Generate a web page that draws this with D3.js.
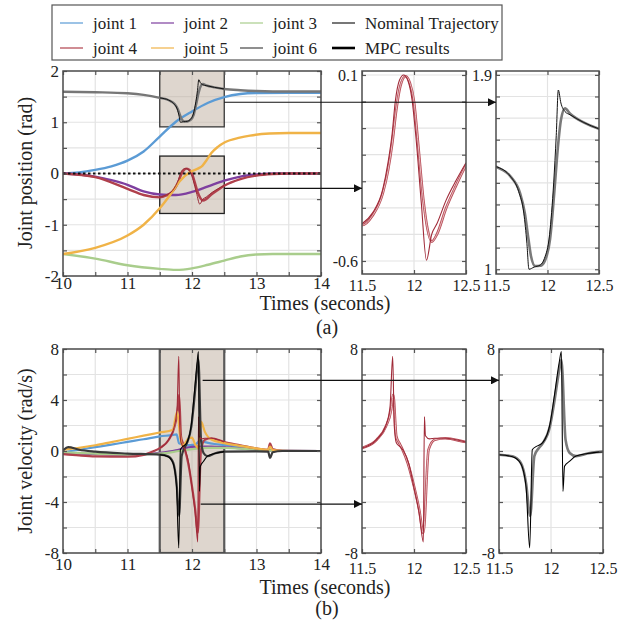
<!DOCTYPE html>
<html>
<head>
<meta charset="utf-8">
<script src="https://cdn.jsdelivr.net/npm/d3@7"></script>
<style>
  body { margin: 0; background: #fff; }
  text { font-family: "Liberation Serif", "Times New Roman", serif; fill: #222; }
</style>
</head>
<body>
<svg id="fig" width="624" height="622"></svg>
<script>
// ---- data ----
const jointNames = ["joint 1", "joint 2", "joint 3", "joint 4", "joint 5", "joint 6"]
const jointColors = ["#5b9bd5", "#7e3f9f", "#a9cd8c", "#b0404c", "#f0b347", "#777777"]

// joint positions (rad), nominal trajectory
const pos1 = [[10,0],[10.25,0.02],[10.5,0.07],[10.75,0.14],[11,0.25],[11.25,0.43],[11.5,0.72],[11.75,1.01],[12,1.21],[12.25,1.38],[12.5,1.49],[12.75,1.55],[13,1.57],[13.5,1.575],[14,1.575]]
const pos2 = [[10,0],[10.25,-0.02],[10.5,-0.06],[10.75,-0.13],[11,-0.22],[11.25,-0.35],[11.5,-0.41],[11.75,-0.42],[12,-0.36],[12.25,-0.25],[12.5,-0.14],[12.75,-0.06],[13,-0.02],[13.3,0],[14,0]]
const pos3 = [[10,-1.57],[10.5,-1.66],[11,-1.79],[11.5,-1.86],[11.75,-1.88],[12,-1.85],[12.25,-1.78],[12.5,-1.7],[12.75,-1.62],[13,-1.58],[13.25,-1.57],[14,-1.57]]
const pos4 = [[10,0],[10.5,-0.07],[11,-0.3],[11.25,-0.42],[11.5,-0.465],[11.6,-0.43],[11.7,-0.345],[11.75,-0.26],[11.79,-0.16],[11.83,-0.03],[11.87,0.06],[11.92,0.095],[11.96,0.07],[12,0],[12.04,-0.16],[12.09,-0.37],[12.13,-0.48],[12.17,-0.527],[12.22,-0.5],[12.31,-0.4],[12.4,-0.32],[12.5,-0.24],[12.75,-0.11],[13,-0.04],[13.25,-0.01],[13.5,0],[14,0]]
const pos5 = [[10,-1.57],[10.5,-1.45],[11,-1.21],[11.25,-1.0],[11.5,-0.68],[11.66,-0.42],[11.81,-0.15],[11.97,0.03],[12.1,0.1],[12.16,0.15],[12.22,0.25],[12.3,0.4],[12.4,0.52],[12.51,0.61],[12.74,0.7],[12.9,0.74],[13.2,0.78],[13.5,0.79],[14,0.79]]
const pos6 = [[10,1.595],[10.5,1.585],[11,1.565],[11.25,1.535],[11.5,1.475],[11.64,1.43],[11.735,1.35],[11.78,1.26],[11.815,1.14],[11.84,1.06],[11.88,1.015],[11.93,1.016],[11.975,1.04],[12.025,1.14],[12.065,1.35],[12.1,1.56],[12.13,1.69],[12.17,1.745],[12.22,1.72],[12.35,1.68],[12.5,1.65],[12.75,1.625],[13,1.61],[13.5,1.6],[14,1.6]]
// MPC results where they differ from nominal
const pos4Mpc = [[11.5,-0.46],[11.6,-0.42],[11.7,-0.33],[11.75,-0.23],[11.79,-0.12],[11.82,0],[11.86,0.08],[11.9,0.1],[11.94,0.08],[11.98,0.01],[12.02,-0.14],[12.07,-0.38],[12.12,-0.597],[12.17,-0.5],[12.22,-0.46],[12.31,-0.37],[12.4,-0.3],[12.5,-0.23]]
const pos6Mpc = [[11.5,1.475],[11.64,1.43],[11.72,1.36],[11.77,1.26],[11.8,1.12],[11.82,1.0],[11.87,1.01],[11.93,1.02],[11.97,1.05],[12.02,1.16],[12.06,1.4],[12.085,1.62],[12.105,1.83],[12.13,1.77],[12.17,1.73],[12.22,1.715],[12.35,1.68],[12.5,1.65]]

// joint velocities (rad/s), nominal trajectory
const vel1 = [[10,-0.1],[10.25,0.1],[10.5,0.3],[10.75,0.5],[11,0.72],[11.25,0.92],[11.5,1.15],[11.7,1.25],[11.76,1.3],[11.8,0.6],[11.9,0.45],[12.05,0.5],[12.12,0.8],[12.2,0.7],[12.35,0.55],[12.5,0.48],[12.75,0.3],[13,0.15],[13.3,0.02],[14,0]]
const vel2 = [[10,-0.15],[10.5,-0.25],[11,-0.3],[11.5,-0.15],[11.75,0.05],[11.9,0.25],[12.1,0.35],[12.3,0.35],[12.5,0.3],[12.75,0.2],[13,0.1],[13.3,0.01],[14,0]]
const vel3 = [[10,-0.1],[10.5,-0.2],[11,-0.28],[11.5,-0.2],[11.8,0],[12,0.15],[12.25,0.25],[12.5,0.25],[12.75,0.18],[13,0.1],[13.3,0.01],[14,0]]
const vel4 = [[10,-0.25],[10.25,-0.35],[10.5,-0.42],[11,-0.45],[11.25,-0.3],[11.4,-0.02],[11.5,0.23],[11.64,0.88],[11.73,1.93],[11.78,3.24],[11.8,4.4],[11.83,1.15],[11.86,0.6],[11.89,0.1],[11.94,-0.94],[12,-2.77],[12.05,-4.6],[12.09,-6.43],[12.14,0.1],[12.2,0.88],[12.3,1.0],[12.5,0.7],[12.75,0.45],[13,0.2],[13.18,0.1],[13.21,0.6],[13.25,0.15],[13.4,0.02],[14,0]]
const vel5 = [[10,0.1],[10.25,0.25],[10.5,0.45],[10.75,0.7],[11,0.95],[11.25,1.2],[11.5,1.45],[11.7,1.65],[11.77,3.1],[11.82,1.0],[11.85,0.4],[11.95,1.0],[12,1.05],[12.05,0.5],[12.1,0.25],[12.14,2.3],[12.2,1.5],[12.3,0.9],[12.5,0.62],[12.75,0.4],[13,0.2],[13.18,0.1],[13.21,0.35],[13.25,0.08],[13.5,0],[14,0]]
const vel6 = [[10,0.05],[10.08,0.3],[10.25,0.1],[10.5,-0.05],[11,-0.2],[11.5,-0.29],[11.63,-0.42],[11.71,-0.94],[11.76,-2.5],[11.8,-5.1],[11.84,-0.4],[11.88,0.2],[11.92,0.6],[11.99,1.93],[12.03,3.76],[12.08,6.38],[12.1,7.16],[12.14,0.88],[12.18,-0.16],[12.24,-0.4],[12.35,-0.2],[12.5,-0.05],[13,-0.03],[13.18,-0.05],[13.21,-0.55],[13.25,-0.1],[13.4,0],[14,0]]
const vel4Mpc = [[11.5,0.23],[11.64,0.9],[11.73,2.0],[11.77,3.5],[11.795,7.42],[11.81,2.0],[11.83,0.65],[11.87,0.3],[11.9,0],[11.95,-1.0],[12,-2.9],[12.05,-4.9],[12.09,-7.14],[12.1,2.7],[12.11,1.2],[12.15,0.95],[12.2,1.0],[12.3,1.0],[12.5,0.7]]
const vel6Mpc = [[11.5,-0.29],[11.63,-0.45],[11.71,-1.0],[11.76,-2.8],[11.795,-7.6],[11.82,0.1],[11.86,0.36],[11.92,0.65],[11.99,2.1],[12.03,4.2],[12.08,7.0],[12.1,7.8],[12.115,-3.17],[12.13,-1.2],[12.18,-0.8],[12.24,-0.4],[12.35,-0.2],[12.5,-0.05]]

// ticks
const mainXTicks = [10, 10.5, 11, 11.5, 12, 12.5, 13, 13.5, 14]
const mainXLabels = [10, 11, 12, 13, 14]
const posYTicks = [-2, -1.5, -1, -0.5, 0, 0.5, 1, 1.5, 2]
const posYLabels = [-2, -1, 0, 1, 2]
const velYTicks = [-8, -6, -4, -2, 0, 2, 4, 6, 8]
const velYLabels = [-8, -4, 0, 4, 8]
const zoomXTicks = [11.5, 12, 12.5]
const zoomXLabels = ["11.5", "12", "12.5"]
const zoomPos4YTicks = [-0.6, -0.5, -0.4, -0.3, -0.2, -0.1, 0, 0.1]
const zoomPos4YLabels = [-0.6, 0.1]
const zoomPos6YTicks = [1, 1.1, 1.2, 1.3, 1.4, 1.5, 1.6, 1.7, 1.8, 1.9]
const zoomPos6YLabels = [1, 1.9]
const zoomVelYLabels = [-8, 8]

const posNominal = [pos1, pos2, pos3, pos4, pos5, pos6]
const velNominal = [vel1, vel2, vel3, vel4, vel5, vel6]

const svg = d3.select("#fig")
const defs = svg.append("defs")
defs.append("marker").attr("id", "arrow")
    .attr("viewBox", "0 0 10 10").attr("refX", 10).attr("refY", 5)
    .attr("markerWidth", 9).attr("markerHeight", 8).attr("markerUnits", "userSpaceOnUse")
    .attr("orient", "auto")
    .append("path").attr("d", "M0,0L10,5L0,10z").attr("fill", "#111")

let clipCount = 0

// one MATLAB-like axes box with grid and inward ticks
function panel(p) {
    const x = d3.scaleLinear().domain(p.xd).range([p.l, p.r])
    const y = d3.scaleLinear().domain(p.yd).range([p.b, p.t])
    const g = svg.append("g")
    const id = "clip" + (clipCount++)
    defs.append("clipPath").attr("id", id)
        .append("rect").attr("x", p.l).attr("y", p.t).attr("width", p.r - p.l).attr("height", p.b - p.t)

    // grid
    g.append("g").selectAll("line").data(p.xGrid).join("line")
        .attr("x1", d => x(d)).attr("x2", d => x(d)).attr("y1", p.t).attr("y2", p.b)
        .attr("stroke", "#e3e3e3").attr("stroke-width", 1.2)
    g.append("g").selectAll("line").data(p.yGrid).join("line")
        .attr("y1", d => y(d)).attr("y2", d => y(d)).attr("x1", p.l).attr("x2", p.r)
        .attr("stroke", "#e3e3e3").attr("stroke-width", 1.2)

    const plot = g.append("g").attr("clip-path", "url(#" + id + ")")
    const front = svg.append("g")
    return {x, y, g, plot, front, p}
}

function axesFrame(P) {
    const {x, y, front, p} = P
    const fmtX = d => p.xLab.map(String).includes(String(d)) ? String(d) : ""
    const fmtY = d => p.yLab.map(String).includes(String(d)) ? String(d) : ""
    const bottom = front.append("g").attr("transform", "translate(0," + p.b + ")")
        .call(d3.axisBottom(x).tickValues(p.xTicks).tickSizeInner(-4).tickSizeOuter(0).tickPadding(p.xPad).tickFormat(fmtX))
    const top = front.append("g").attr("transform", "translate(0," + p.t + ")")
        .call(d3.axisTop(x).tickValues(p.xTicks).tickSizeInner(-4).tickSizeOuter(0).tickFormat(""))
    const left = front.append("g").attr("transform", "translate(" + p.l + ",0)")
        .call(d3.axisLeft(y).tickValues(p.yTicks).tickSizeInner(-4).tickSizeOuter(0).tickPadding(4).tickFormat(fmtY))
    const right = front.append("g").attr("transform", "translate(" + p.r + ",0)")
        .call(d3.axisRight(y).tickValues(p.yTicks).tickSizeInner(-4).tickSizeOuter(0).tickFormat(""))
    for (const a of [bottom, top, left, right]) {
        a.select(".domain").remove()
        a.selectAll("line").attr("stroke", "#555").attr("stroke-width", 1.2)
        a.selectAll("text").attr("font-size", p.fs).attr("font-family", "Liberation Serif, serif").attr("fill", "#222")
    }
    front.append("rect").attr("x", p.l).attr("y", p.t).attr("width", p.r - p.l).attr("height", p.b - p.t)
        .attr("fill", "none").attr("stroke", "#4d4d4d").attr("stroke-width", 1.5)
}

const line = (P) => d3.line().x(d => P.x(d[0])).y(d => P.y(d[1])).curve(d3.curveMonotoneX)

function drawSeries(P, data, color, width) {
    P.plot.append("path").datum(data).attr("d", line(P))
        .attr("fill", "none").attr("stroke", color).attr("stroke-width", width)
        .attr("stroke-linejoin", "round")
}

function zoomBox(P, x0, x1, y0, y1, stroke, sw) {
    P.plot.append("rect")
        .attr("x", P.x(x0)).attr("y", P.y(y1))
        .attr("width", P.x(x1) - P.x(x0)).attr("height", P.y(y0) - P.y(y1))
        .attr("fill", "rgb(195,180,165)").attr("fill-opacity", 0.55)
        .attr("stroke", stroke).attr("stroke-width", sw)
}

// ---------------- (a) positions ----------------
const A = panel({l: 63, r: 321, t: 71, b: 276, xd: [10, 14], yd: [-2, 2],
    xGrid: mainXTicks, yGrid: posYTicks, xTicks: mainXTicks, xLab: mainXLabels,
    yTicks: posYTicks, yLab: posYLabels, xPad: 1, fs: 17})
zoomBox(A, 11.5, 12.5, 0.91, 2.03, "#3a3a3a", 1.3)
zoomBox(A, 11.5, 12.5, -0.78, 0.34, "#222", 1.3)
posNominal.forEach((d, i) => drawSeries(A, d, jointColors[i], 2.4))
drawSeries(A, pos4Mpc, "#9a2a36", 1)
drawSeries(A, pos6Mpc, "#111", 1)
A.plot.append("line").attr("x1", A.x(10)).attr("x2", A.x(14)).attr("y1", A.y(0)).attr("y2", A.y(0))
    .attr("stroke", "#111").attr("stroke-width", 2).attr("stroke-dasharray", "2.5,2.5")
axesFrame(A)

const A4 = panel({l: 362, r: 466, t: 71, b: 274, xd: [11.5, 12.5], yd: [-0.649, 0.115],
    xGrid: [12], yGrid: zoomPos4YTicks, xTicks: zoomXTicks, xLab: zoomXLabels,
    yTicks: zoomPos4YTicks, yLab: zoomPos4YLabels, xPad: 6, fs: 16})
drawSeries(A4, pos4, "#b84a55", 2.6)
drawSeries(A4, pos4, "#f3d9db", 0.8)
drawSeries(A4, pos4Mpc, "#a02a38", 1.1)
axesFrame(A4)

const A6 = panel({l: 496, r: 599, t: 71, b: 274, xd: [11.5, 12.5], yd: [0.978, 1.918],
    xGrid: [12], yGrid: zoomPos6YTicks, xTicks: zoomXTicks, xLab: zoomXLabels,
    yTicks: zoomPos6YTicks, yLab: zoomPos6YLabels, xPad: 6, fs: 16})
drawSeries(A6, pos6, "#7a7a7a", 2.6)
drawSeries(A6, pos6Mpc, "#111", 1)
axesFrame(A6)

// ---------------- (b) velocities ----------------
const B = panel({l: 63, r: 321, t: 349, b: 553, xd: [10, 14], yd: [-8, 8],
    xGrid: mainXTicks, yGrid: velYTicks, xTicks: mainXTicks, xLab: mainXLabels,
    yTicks: velYTicks, yLab: velYLabels, xPad: 5, fs: 17})
zoomBox(B, 11.5, 12.5, -8, 8, "#5a5a5a", 2.2)
velNominal.forEach((d, i) => drawSeries(B, d, i === 5 ? "#3a3a3a" : jointColors[i], 2.2))
drawSeries(B, vel4Mpc, "#a02a38", 1.1)
drawSeries(B, vel6Mpc, "#000", 1.1)
axesFrame(B)

const B4 = panel({l: 362, r: 466, t: 349, b: 553, xd: [11.5, 12.5], yd: [-8, 8],
    xGrid: [12], yGrid: velYTicks, xTicks: zoomXTicks, xLab: zoomXLabels,
    yTicks: velYTicks, yLab: zoomVelYLabels, xPad: 10, fs: 16})
drawSeries(B4, vel4, "#b84a55", 2.6)
drawSeries(B4, vel4, "#f3d9db", 0.8)
drawSeries(B4, vel4Mpc, "#a02a38", 1.1)
axesFrame(B4)

const B6 = panel({l: 499, r: 603, t: 349, b: 553, xd: [11.5, 12.5], yd: [-8, 8],
    xGrid: [12], yGrid: velYTicks, xTicks: zoomXTicks, xLab: zoomXLabels,
    yTicks: velYTicks, yLab: zoomVelYLabels, xPad: 10, fs: 16})
drawSeries(B6, vel6, "#7a7a7a", 2.6)
drawSeries(B6, vel6Mpc, "#000", 1.1)
axesFrame(B6)

// arrows from the zoom boxes to the detail panels
function arrow(x1, y1, x2) {
    svg.append("line").attr("x1", x1).attr("y1", y1).attr("x2", x2).attr("y2", y1)
        .attr("stroke", "#111").attr("stroke-width", 1.2).attr("marker-end", "url(#arrow)")
}
arrow(A.x(12.5), A.y(1.39), A6.x(11.5))
arrow(A.x(12.5), A.y(-0.29), A4.x(11.5))
arrow(B.x(12.165), B.y(5.54), B6.x(11.5))
arrow(B.x(12.135), B.y(-4.16), B4.x(11.5))

// axis titles
svg.append("text").attr("x", 325).attr("y", 310).attr("text-anchor", "middle").attr("font-size", 20).text("Times (seconds)")
svg.append("text").attr("x", 327).attr("y", 334).attr("text-anchor", "middle").attr("font-size", 20).text("(a)")
svg.append("text").attr("x", 325).attr("y", 594).attr("text-anchor", "middle").attr("font-size", 20).text("Times (seconds)")
svg.append("text").attr("x", 327).attr("y", 615).attr("text-anchor", "middle").attr("font-size", 20).text("(b)")
svg.append("text").attr("transform", "translate(32,173) rotate(-90)").attr("text-anchor", "middle").attr("font-size", 20).text("Joint position (rad)")
svg.append("text").attr("transform", "translate(32,451) rotate(-90)").attr("text-anchor", "middle").attr("font-size", 20).text("Joint velocity (rad/s)")

// legend
const leg = svg.append("g")
leg.append("rect").attr("x", 52).attr("y", 5).attr("width", 450).attr("height", 55)
    .attr("fill", "#fff").attr("stroke", "#555").attr("stroke-width", 1.2)
const legendItems = [
    {name: jointNames[0], color: jointColors[0], w: 1.2},
    {name: jointNames[1], color: jointColors[1], w: 1.2},
    {name: jointNames[2], color: jointColors[2], w: 1.2},
    {name: "Nominal Trajectory", color: "#555", w: 1.6},
    {name: jointNames[3], color: jointColors[3], w: 1.2},
    {name: jointNames[4], color: jointColors[4], w: 1.2},
    {name: jointNames[5], color: "#444", w: 1.2},
    {name: "MPC results", color: "#000", w: 2.6}
]
const colX = [60, 151, 240, 332]
leg.selectAll("g.item").data(legendItems).join("g").attr("class", "item")
    .attr("transform", (d, i) => "translate(" + colX[i % 4] + "," + (i < 4 ? 23 : 48) + ")")
    .each(function (d) {
        const it = d3.select(this)
        it.append("line").attr("x1", 0).attr("x2", 23).attr("y1", 0).attr("y2", 0)
            .attr("stroke", d.color).attr("stroke-width", d.w)
        it.append("text").attr("x", 33).attr("y", 6).attr("font-size", 17).text(d.name)
    })
</script>
</body>
</html>
